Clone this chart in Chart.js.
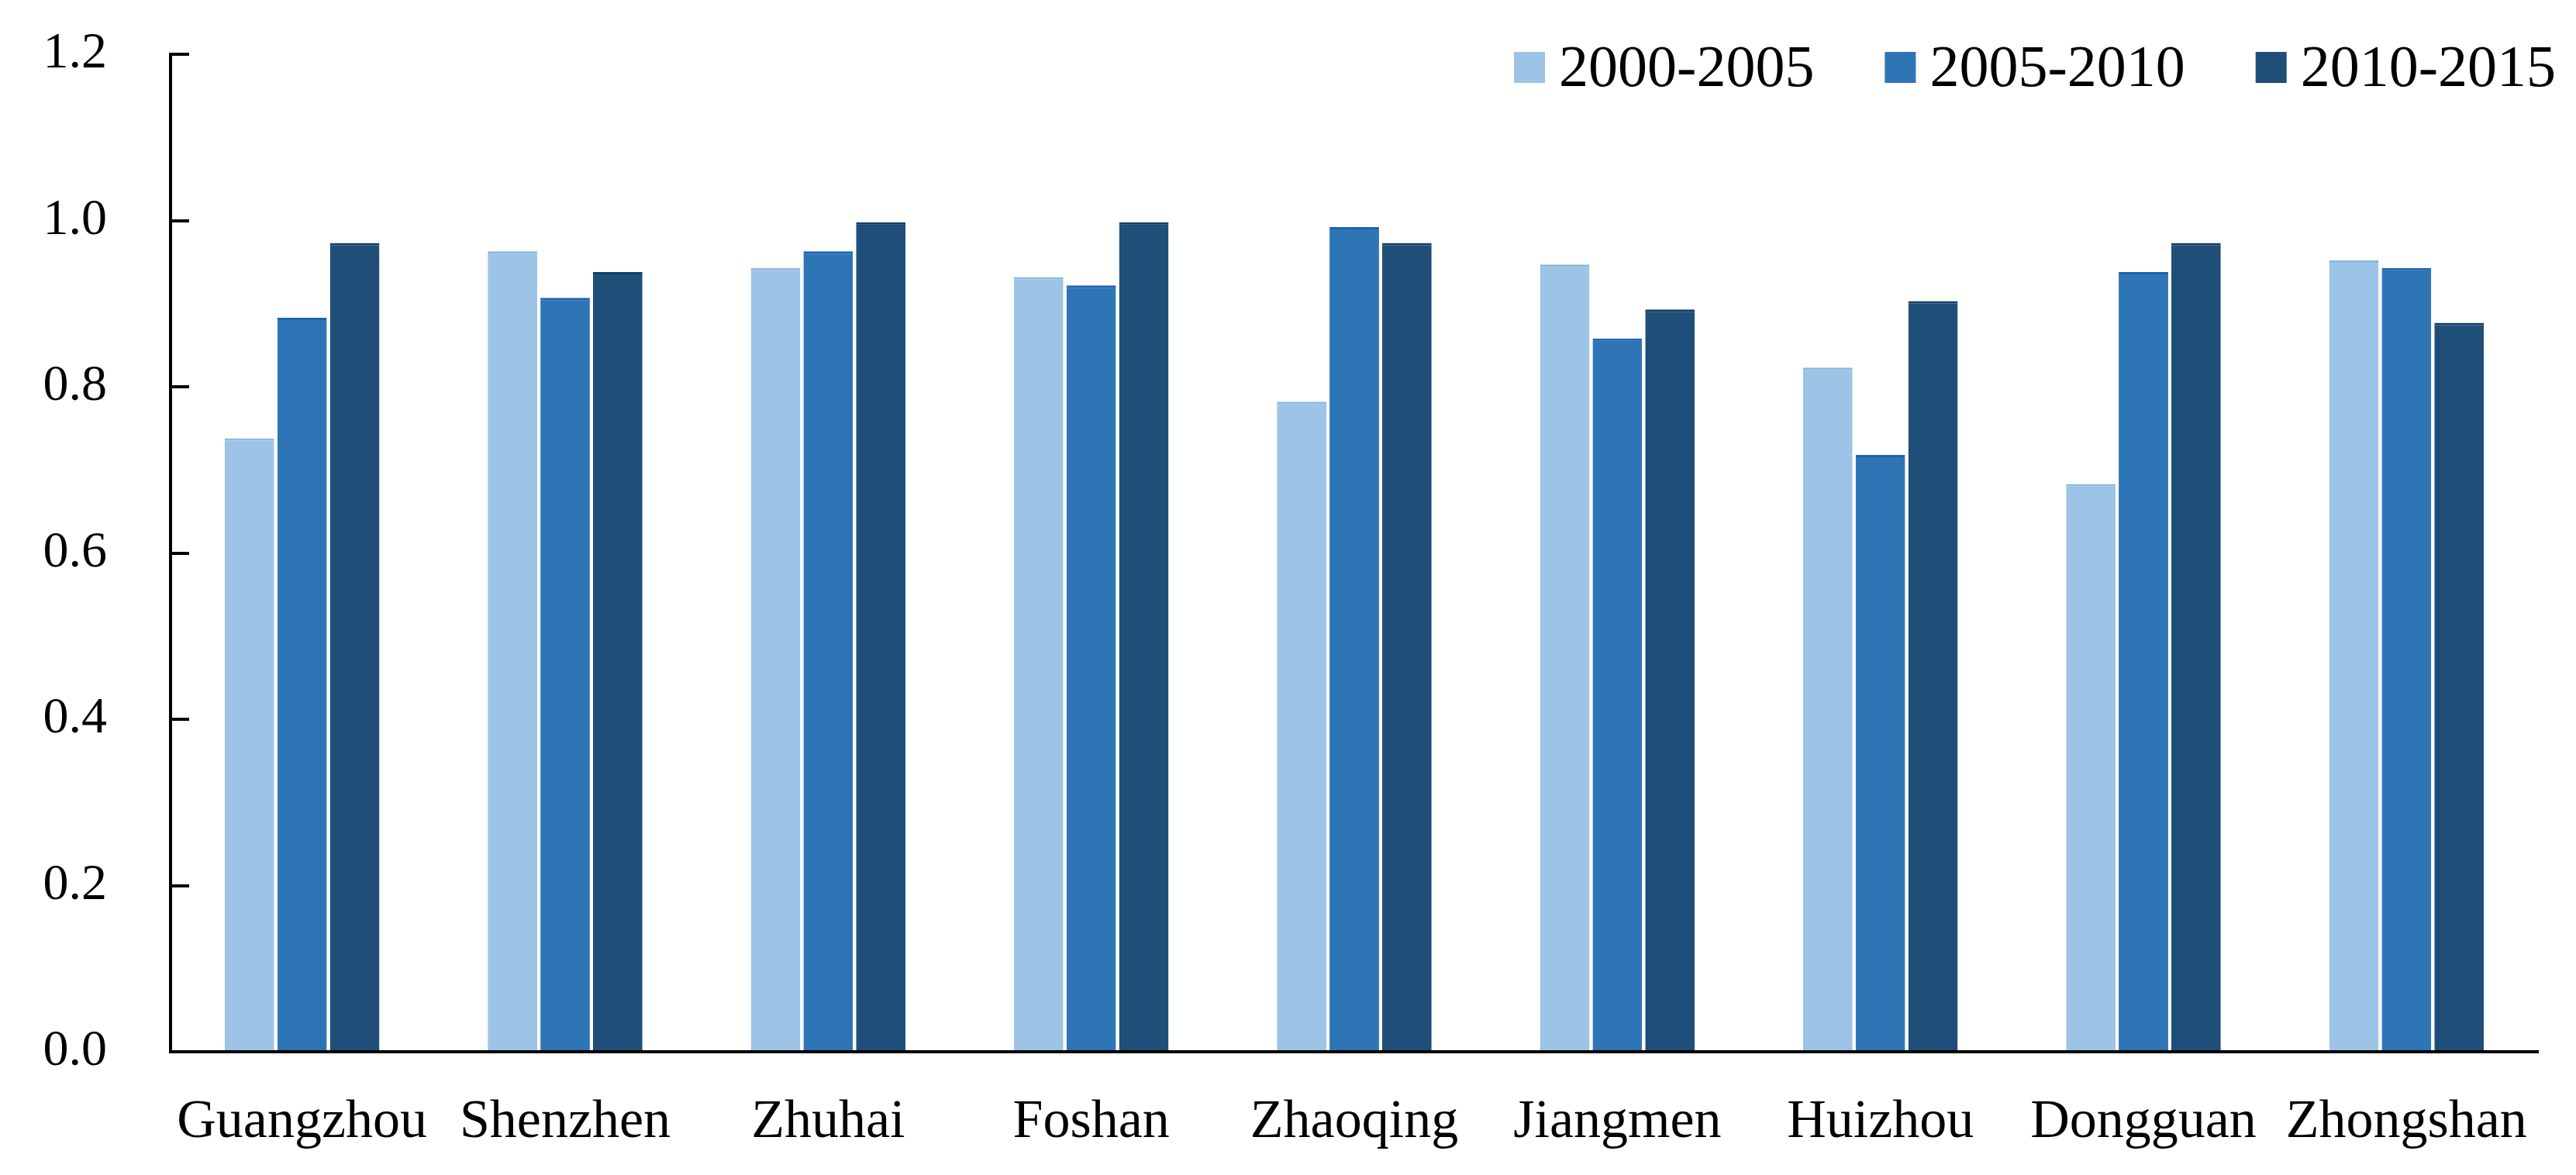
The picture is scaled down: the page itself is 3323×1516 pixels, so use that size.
<!DOCTYPE html>
<html>
<head>
<meta charset="utf-8">
<script src="https://cdn.jsdelivr.net/npm/chart.js@4.4.0/dist/chart.umd.min.js"></script>
<style>
  body { margin: 0; background: #fff; }
  #wrap { width: 3323px; height: 1516px; }
</style>
</head>
<body>
<div id="wrap"><canvas id="growth-chart"></canvas></div>
<script>
const cities = ["Guangzhou", "Shenzhen", "Zhuhai", "Foshan", "Zhaoqing", "Jiangmen", "Huizhou", "Dongguan", "Zhongshan"];
const period1 = [0.738, 0.963, 0.943, 0.932, 0.782, 0.947, 0.823, 0.683, 0.952];
const period2 = [0.883, 0.907, 0.963, 0.922, 0.992, 0.858, 0.718, 0.938, 0.943];
const period3 = [0.973, 0.938, 0.998, 0.998, 0.973, 0.893, 0.903, 0.973, 0.877];
const periodLabels = ["2000-2005", "2005-2010", "2010-2015"];

const serif = "'Liberation Serif', 'Times New Roman', serif";

function barSet(label, data, fill, edge) {
  return {
    label: label,
    data: data,
    backgroundColor: fill,
    borderColor: edge,
    borderWidth: { top: 3, left: 0, right: 0, bottom: 0 },
    borderSkipped: false,
    categoryPercentage: 0.6,
    barPercentage: 0.94,
  };
}

// legend sits over the top right of the plot, like the original
const topLegend = {
  id: "topLegend",
  afterDraw(chart) {
    const ctx = chart.ctx;
    const box = 40, gap = 18, space = 91;
    const right = 3297, midY = 87;
    ctx.save();
    ctx.font = "76px " + serif;
    ctx.textBaseline = "middle";
    ctx.textAlign = "left";
    let x = right;
    const items = chart.data.datasets.slice().reverse();
    items.forEach((ds) => {
      const w = ctx.measureText(ds.label).width;
      x -= w;
      ctx.fillStyle = "#000";
      ctx.fillText(ds.label, x, midY + 4);
      x -= gap + box;
      ctx.fillStyle = ds.backgroundColor;
      ctx.fillRect(x, midY - box / 2, box, box);
      x -= space;
    });
    ctx.restore();
  },
};

const growthChart = new Chart(document.getElementById("growth-chart"), {
  type: "bar",
  data: {
    labels: cities,
    datasets: [
      barSet(periodLabels[0], period1, "#9DC3E6", "#8DB8E2"),
      barSet(periodLabels[1], period2, "#2E75B6", "#1B64AE"),
      barSet(periodLabels[2], period3, "#1F4E79", "#113D68"),
    ],
  },
  options: {
    responsive: true,
    maintainAspectRatio: false,
    animation: false,
    layout: {
      autoPadding: false,
      padding: { left: 56, right: 49, top: 70, bottom: 22 },
    },
    plugins: {
      tooltip: { enabled: false },
      legend: { display: false },
    },
    scales: {
      x: {
        grid: { display: false },
        border: { display: true, color: "#000", width: 4 },
        afterFit: (scale) => { scale.height = 137; },
        ticks: {
          color: "#000",
          padding: 42,
          maxRotation: 0,
          autoSkip: false,
          font: { family: serif, size: 70 },
        },
      },
      y: {
        min: 0,
        max: 1.2,
        afterFit: (scale) => {
          scale.width = 164;
          scale.paddingTop = 0;
          scale.paddingBottom = 0;
        },
        grid: {
          drawOnChartArea: false,
          drawTicks: true,
          tickLength: -24,
          color: "#000",
          lineWidth: 4,
        },
        border: { display: true, color: "#000", width: 4 },
        ticks: {
          stepSize: 0.2,
          color: "#000",
          padding: 106,
          font: { family: serif, size: 66 },
          callback: (v) => v.toFixed(1),
        },
      },
    },
  },
  plugins: [topLegend],
});
</script>
</body>
</html>
